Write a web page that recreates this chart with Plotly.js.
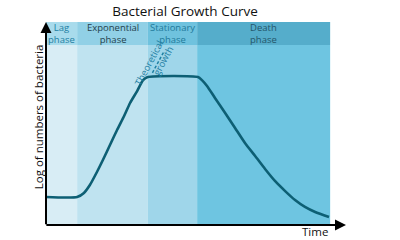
<!DOCTYPE html>
<html>
<head>
<meta charset="utf-8">
<script src="https://cdn.plot.ly/plotly-3.0.1.min.js"></script>
<style>html,body{margin:0;padding:0;background:#fff;}#chart{width:400px;height:240px;}</style>
</head>
<body>
<div id="chart"></div>
<script>
// Phase labels and boundaries (time units)
const phaseLabels = ["Lag<br>phase", "Exponential<br>phase", "Stationary<br>phase", "Death<br>phase"];
const phaseStart = [0, 1.10, 3.60, 5.34];
const phaseEnd = [1.10, 3.60, 5.34, 10.04];
const phaseBody = ["#d8edf5", "#bfe3f0", "#9fd6ea", "#6ec5e1"];
const phaseHead = ["#a8dbec", "#91d0e6", "#6fc2de", "#55adcb"];
const phaseText = ["#1f80a3", "#243f4c", "#1f7a9b", "#24566a"];

// Growth curve: time vs log of number of bacteria
const timeVals = [0, 1.10, 1.34, 1.55, 1.80, 2.01, 2.26, 2.51, 2.76, 2.97, 3.22, 3.43, 3.60,
  5.37, 5.51, 5.69, 5.97, 6.33, 6.68, 7.03, 7.39, 7.74, 8.09, 8.45, 8.80, 9.15, 9.51, 10.0];
const logCount = [1.38, 1.38, 1.58, 1.97, 2.61, 3.20, 3.94, 4.68, 5.37, 6.01, 6.60, 7.14, 7.29,
  7.29, 7.14, 6.85, 6.26, 5.52, 4.78, 4.04, 3.40, 2.76, 2.17, 1.67, 1.23, 0.89, 0.64, 0.39];

const xMax = 10.6, yMax = 10.1, headBottom = 8.87, headTop = 10.0;
const FONT = "Open Sans";

const shapes = [];
for (let i = 0; i < phaseLabels.length; i++) {
  shapes.push({type: "rect", xref: "x", yref: "y", x0: phaseStart[i], x1: phaseEnd[i], y0: 0, y1: headBottom,
    fillcolor: phaseBody[i], line: {width: 0}, layer: "below"});
  shapes.push({type: "rect", xref: "x", yref: "y", x0: phaseStart[i], x1: phaseEnd[i], y0: headBottom, y1: headTop,
    fillcolor: phaseHead[i], line: {width: 0}, layer: "below"});
}
// theoretical growth dashed extension
shapes.push({type: "line", xref: "x", yref: "y", x0: 3.76, y0: 7.5, x1: 4.17, y1: 8.55,
  line: {color: "#1f80a3", width: 1.5, dash: "3px,2px"}});

const annotations = [];
for (let i = 0; i < phaseLabels.length; i++) {
  const cx = (phaseStart[i] + phaseEnd[i]) / 2;
  annotations.push({x: cx, y: (headBottom + headTop) / 2, xref: "x", yref: "y", text: phaseLabels[i],
    showarrow: false, borderpad: 0, align: "center",
    font: {family: FONT, size: 9.5, color: phaseText[i]}});
}
annotations.push({x: 3.62, y: 7.98, xref: "x", yref: "y", text: "Theoretical", textangle: -62, showarrow: false,
  borderpad: 0, font: {family: FONT, size: 9.5, color: "#1f80a3"}});
annotations.push({x: 4.14, y: 8.12, xref: "x", yref: "y", text: "growth", textangle: -62, showarrow: false,
  borderpad: 0, font: {family: FONT, size: 9.5, color: "#1f80a3"}});
// axis arrows
annotations.push({x: xMax, y: 0, xref: "x", yref: "y", ax: -0.04, ay: 0, axref: "x", ayref: "y", text: "",
  showarrow: true, arrowhead: 2, arrowsize: 1.1, arrowwidth: 2, arrowcolor: "#000"});
annotations.push({x: 0, y: yMax - 0.1, xref: "x", yref: "y", ax: 0, ay: -0.04, axref: "x", ayref: "y", text: "",
  showarrow: true, arrowhead: 2, arrowsize: 1.1, arrowwidth: 2, arrowcolor: "#000"});
// axis titles
annotations.push({x: 0.897, y: -0.03, xref: "paper", yref: "paper", text: "Time", showarrow: false, borderpad: 0,
  xanchor: "center", yanchor: "middle", font: {family: FONT, size: 11.5, color: "#111"}});
annotations.push({x: -0.027, y: 0.53, xref: "paper", yref: "paper", text: "Log of numbers of bacteria",
  textangle: -90, showarrow: false, xanchor: "center", yanchor: "middle", borderpad: 0,
  font: {family: FONT, size: 11.5, color: "#111"}});

const data = [{
  x: timeVals, y: logCount, type: "scatter", mode: "lines",
  line: {color: "#0d5f74", width: 2.6, shape: "spline", smoothing: 0.6},
  hoverinfo: "skip"
}];

const layout = {
  width: 400, height: 240,
  margin: {l: 46, r: 54, t: 20, b: 15},
  paper_bgcolor: "#fff", plot_bgcolor: "#fff",
  showlegend: false,
  title: {text: "Bacterial Growth Curve", x: 0.4625, xanchor: "center", y: 0.955, yanchor: "middle",
    font: {family: FONT, size: 13.5, color: "#111"}},
  xaxis: {range: [0, xMax], showgrid: false, zeroline: false, showticklabels: false, ticks: "", showline: false, fixedrange: true},
  yaxis: {range: [0, yMax], showgrid: false, zeroline: false, showticklabels: false, ticks: "", showline: false, fixedrange: true},
  shapes: shapes,
  annotations: annotations
};

Plotly.newPlot("chart", data, layout, {displayModeBar: false, staticPlot: true});
</script>
</body>
</html>
